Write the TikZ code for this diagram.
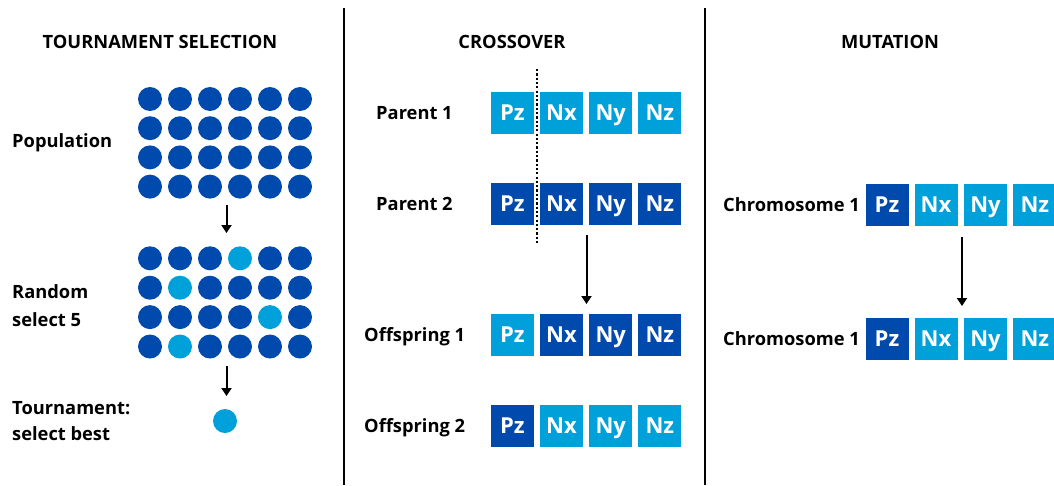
\documentclass[tikz,border=0pt]{standalone}
\usepackage{fontspec}
\setmainfont{Open Sans}
\usetikzlibrary{arrows.meta}
\definecolor{dblue}{RGB}{0,74,173}
\definecolor{lblue}{RGB}{0,160,218}
\begin{document}
\begin{tikzpicture}[x=1pt,y=-1pt,
 title/.style={font=\bfseries\fontsize{18.3}{22}\selectfont, anchor=base, inner sep=0},
 lbl/.style={font=\bfseries\fontsize{18.3}{22}\selectfont, anchor=base west, inner sep=0},
 gene/.style={minimum width=43pt, minimum height=42pt, inner sep=0, text=white,
   font=\bfseries\fontsize{22}{25}\selectfont, text height=15.7pt, text depth=0pt},
 dk/.style={gene, fill=dblue}, lt/.style={gene, fill=lblue},
 dotd/.style={circle, minimum size=24pt, inner sep=0, fill=dblue},
 dotl/.style={circle, minimum size=24pt, inner sep=0, fill=lblue},
 arr/.style={line width=2pt, -{Triangle[width=10pt,length=8pt]}},
 sepline/.style={line width=1.5pt}
]
\clip (0,0) rectangle (1054,485);
% separators
\coordinate (s1t) at (344,8); \coordinate (s1b) at (344,485);
\coordinate (s2t) at (705,8); \coordinate (s2b) at (705,485);
\draw[sepline] (s1t) -- (s1b);
\draw[sepline] (s2t) -- (s2b);
% titles
\node[title] (t1) at (160,48.5) {TOURNAMENT SELECTION};
\node[title] (t2) at (512,48.5) {CROSSOVER};
\node[title] (t3) at (890,48.5) {MUTATION};
% tournament selection
\node[lbl] (lpop) at (12,147) {Population};
\node[lbl] (lrand1) at (12,298) {Random};
\node[lbl] (lrand2) at (12,326) {select 5};
\node[lbl] (ltour1) at (12,414) {Tournament:};
\node[lbl] (ltour2) at (12,440) {select best};
\foreach \r in {0,...,3}{
  \foreach \c in {0,...,5}{
    \node[dotd] (p-\r-\c) at ({150+30*\c},{99+29.2*\r}) {};
  }
}
\foreach \r/\c/\s in {0/0/dotd,0/1/dotd,0/2/dotd,0/3/dotl,0/4/dotd,0/5/dotd,
                      1/0/dotd,1/1/dotl,1/2/dotd,1/3/dotd,1/4/dotd,1/5/dotd,
                      2/0/dotd,2/1/dotd,2/2/dotd,2/3/dotd,2/4/dotl,2/5/dotd,
                      3/0/dotd,3/1/dotl,3/2/dotd,3/3/dotd,3/4/dotd,3/5/dotd}{
  \node[\s] (q-\r-\c) at ({150+30*\c},{258.3+29.4*\r}) {};
}
\node[dotl] (best) at (225,421) {};
\coordinate (a1s) at (226.5,205); \coordinate (a1e) at (226.5,233);
\coordinate (a2s) at (226.5,366); \coordinate (a2e) at (226.5,396);
\draw[arr] (a1s) -- (a1e);
\draw[arr] (a2s) -- (a2e);
% crossover
\node[lbl] (lp1) at (376,119) {Parent 1};
\node[lbl] (lp2) at (376,210) {Parent 2};
\node[lbl] (lo1) at (364,341) {Offspring 1};
\node[lbl] (lo2) at (364,432) {Offspring 2};
\node[lt] (p1a) at (512.3,113) {Pz};
\node[lt] (p1b) at (561.5,113) {Nx};
\node[lt] (p1c) at (610.7,113) {Ny};
\node[lt] (p1d) at (659.9,113) {Nz};
\node[dk] (p2a) at (512.3,204) {Pz};
\node[dk] (p2b) at (561.5,204) {Nx};
\node[dk] (p2c) at (610.7,204) {Ny};
\node[dk] (p2d) at (659.9,204) {Nz};
\node[lt] (o1a) at (512.3,335) {Pz};
\node[dk] (o1b) at (561.5,335) {Nx};
\node[dk] (o1c) at (610.7,335) {Ny};
\node[dk] (o1d) at (659.9,335) {Nz};
\node[dk] (o2a) at (512.3,426) {Pz};
\node[lt] (o2b) at (561.5,426) {Nx};
\node[lt] (o2c) at (610.7,426) {Ny};
\node[lt] (o2d) at (659.9,426) {Nz};
\coordinate (cut1) at (536.8,69); \coordinate (cut2) at (536.8,244);
\draw[line width=2.3pt, dash pattern=on 2.2pt off 2.1pt] (cut1) -- (cut2);
\coordinate (a3s) at (586.5,235); \coordinate (a3e) at (586.5,304);
\draw[arr] (a3s) -- (a3e);
% mutation
\node[lbl] (lc1) at (723,211) {Chromosome 1};
\node[lbl] (lc2) at (723,345) {Chromosome 1};
\node[dk] (c1a) at (887,204.5) {Pz};
\node[lt] (c1b) at (936,204.5) {Nx};
\node[lt] (c1c) at (985.5,204.5) {Ny};
\node[lt] (c1d) at (1034.8,204.5) {Nz};
\node[dk] (c2a) at (887,338.7) {Pz};
\node[lt] (c2b) at (936,338.7) {Nx};
\node[lt] (c2c) at (985.5,338.7) {Ny};
\node[lt] (c2d) at (1034.8,338.7) {Nz};
\coordinate (a4s) at (962,237); \coordinate (a4e) at (962,306);
\draw[arr] (a4s) -- (a4e);
\end{tikzpicture}
\end{document}
